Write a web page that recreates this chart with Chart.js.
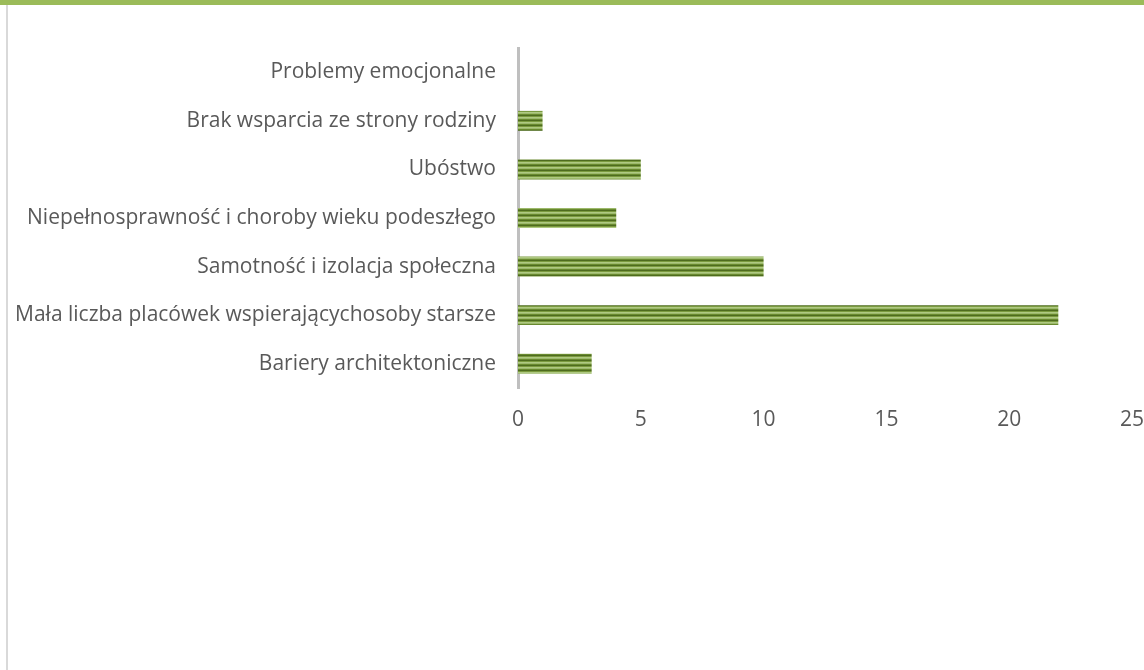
<!DOCTYPE html>
<html>
<head>
<meta charset="utf-8">
<script src="https://cdn.jsdelivr.net/npm/chart.js@4"></script>
<style>
    html, body { margin: 0; padding: 0; background: #fff; }
    .frame { position: relative; width: 1144px; height: 670px; overflow: hidden; }
    .top-band { position: absolute; left: 0; top: 0; width: 100%; height: 5px; background: #9bbb59; }
    .left-rule { position: absolute; left: 6px; top: 5px; width: 2px; bottom: 0; background: #d9d9d9; }
    .chart-box { position: absolute; left: 0; top: 0; width: 1144px; height: 670px; }
</style>
</head>
<body>
<div class="frame">
    <div class="top-band"></div>
    <div class="left-rule"></div>
    <div class="chart-box"><canvas id="chart"></canvas></div>
</div>
<script>
    // values
    const categories = [
        'Problemy emocjonalne',
        'Brak wsparcia ze strony rodziny',
        'Ubóstwo',
        'Niepełnosprawność i choroby wieku podeszłego',
        'Samotność i izolacja społeczna',
        'Mała liczba placówek wspierającychosoby starsze',
        'Bariery architektoniczne'
    ];
    const counts = [0, 1, 5, 4, 10, 22, 3];
    const xTicks = [0, 5, 10, 15, 20, 25];

    // striped green fill like the original bar texture
    function stripes() {
        const c = document.createElement('canvas');
        c.width = 1; c.height = 5;
        const g = c.getContext('2d');
        const rows = ['#4e6b1f', '#7a9a3e', '#afc982', '#9cb96b', '#698a2f'];
        rows.forEach((col, i) => { g.fillStyle = col; g.fillRect(0, i, 1, 1); });
        return g.createPattern(c, 'repeat');
    }

    const textColor = '#595959';
    const font = { family: '"Open Sans", sans-serif', size: 21 };

    new Chart(document.getElementById('chart'), {
        type: 'bar',
        data: {
            labels: categories,
            datasets: [{
                data: counts,
                backgroundColor: stripes(),
                borderWidth: 0,
                barPercentage: 0.41,
                categoryPercentage: 1
            }]
        },
        options: {
            indexAxis: 'y',
            responsive: true,
            maintainAspectRatio: false,
            animation: false,
            layout: { padding: { top: 48, right: 12, left: 0, bottom: 0 } },
            plugins: { legend: { display: false }, tooltip: { enabled: false } },
            scales: {
                y: {
                    grid: { display: false },
                    border: { display: true, color: '#bfbfbf', width: 3 },
                    ticks: { color: textColor, font: font, padding: 14 },
                    afterFit: s => { s.width = 518; s.paddingTop = 0; s.paddingBottom = 0; }
                },
                x: {
                    min: 0,
                    max: 25,
                    afterBuildTicks: s => { s.ticks = xTicks.map(v => ({ value: v })); },
                    grid: { display: false, drawTicks: false },
                    border: { display: false },
                    ticks: { color: textColor, font: font, padding: 19 },
                    afterFit: s => {
                        s.height = 670 - 48 - 340;
                        s.paddingLeft = 0;
                        s.paddingRight = 0;
                    }
                }
            }
        }
    });
</script>
</body>
</html>
